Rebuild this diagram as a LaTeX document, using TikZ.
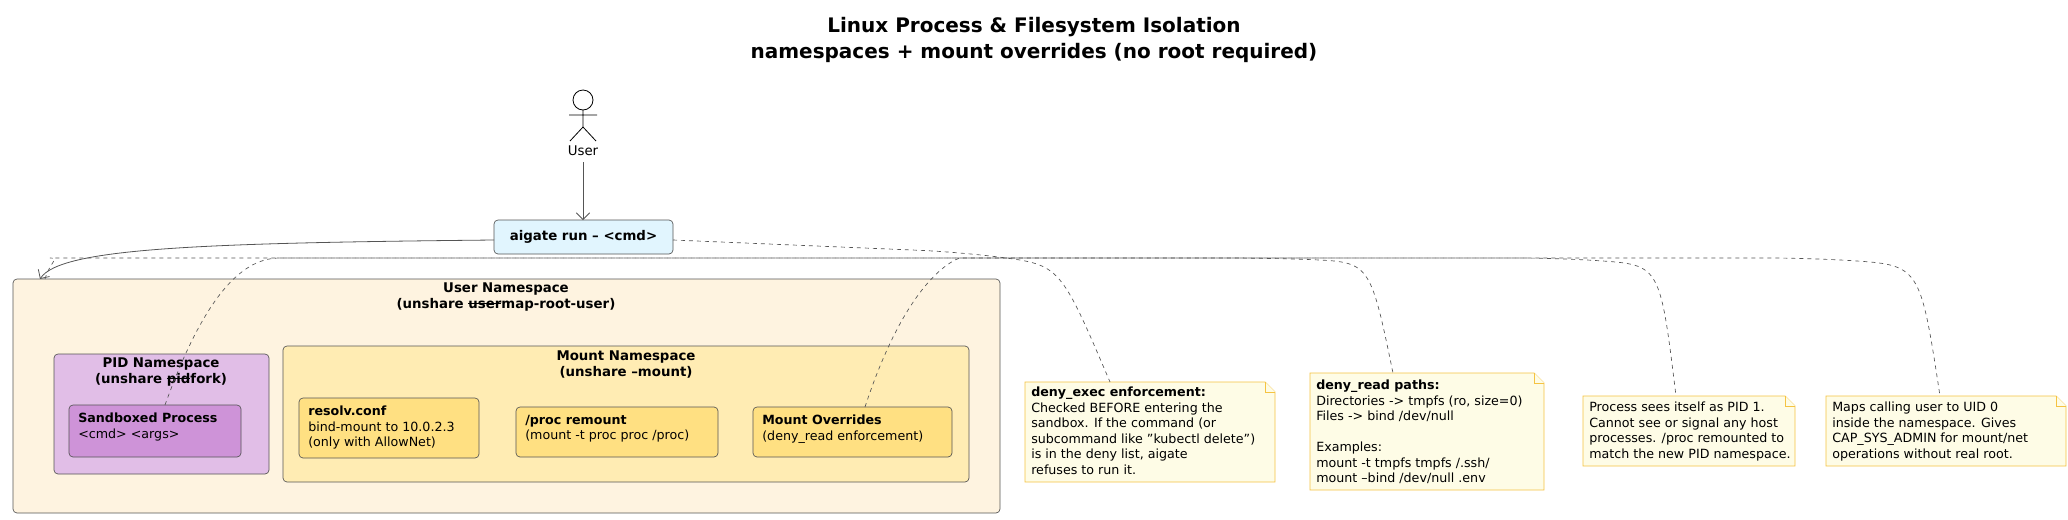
\documentclass[tikz,border=0pt]{standalone}
\usepackage{fontspec}
\setmainfont{DejaVu Sans}
\usetikzlibrary{arrows.meta}
\newcommand\mystrk[1]{\setbox0\hbox{#1}\rlap{\rule[0.6ex]{\wd0}{0.6pt}}\box0}
\definecolor{ubg}{HTML}{FEF3E0}
\definecolor{pidbg}{HTML}{E1BEE7}
\definecolor{procbg}{HTML}{CE93D8}
\definecolor{mntbg}{HTML}{FFECB3}
\definecolor{itembg}{HTML}{FFE082}
\definecolor{cmdbg}{HTML}{E1F5FE}
\definecolor{notebg}{HTML}{FEFCE6}
\definecolor{noteln}{HTML}{F5C342}
\definecolor{ln}{HTML}{555555}
\begin{document}
\begin{tikzpicture}[x=0.75pt,y=-0.75pt,
  box/.style={draw=ln,rounded corners=3pt,line width=0.5pt},
  lbl/.style={align=center,font=\bfseries\fontsize{10}{12}\selectfont},
  txt/.style={align=left,anchor=north west,inner sep=0pt,font=\fontsize{9.5}{11.6}\selectfont},
  note/.style={draw=noteln,fill=notebg,line width=0.6pt},
  dconn/.style={draw=ln,dashed,line width=0.5pt,rounded corners=30pt},
  arr/.style={draw=ln,line width=0.6pt,-{Straight Barb[length=5pt]}}]
\useasboundingbox (0,0) rectangle (2068,519);
\node[font=\bfseries\fontsize{15}{19}\selectfont,align=center] (title) at (1034,40) {Linux Process \& Filesystem Isolation\\namespaces + mount overrides (no root required)};
% actor
\draw[line width=0.6pt] (583,100) circle (10);
\draw[line width=0.6pt] (583,110) -- (583,127) (569,115) -- (597,115) (583,127) -- (570,141) (583,127) -- (596,141);
\node[font=\fontsize{10}{12}\selectfont] (user) at (583,151) {User};
\coordinate (uarr) at (583,162);
% aigate
\draw[box,fill=cmdbg] (494,220) rectangle (673,254);
\node[lbl] (aigate) at (583.5,237) {aigate run -- <cmd>};
\coordinate (agtop) at (583,220);
\draw[arr] (uarr) -- (agtop);
% user ns
\draw[box,fill=ubg] (13,279) rectangle (1000,513);
\node[lbl] (uns) at (506,297) {User Namespace\\(unshare \mystrk{user} map-root-user)};
\coordinate (agleft) at (494,240);
\coordinate (unstop) at (40,279);
\draw[arr] (agleft) .. controls (200,243) and (60,248) .. (unstop);
% pid ns
\draw[box,fill=pidbg] (54,354) rectangle (269,474);
\node[lbl] (pidns) at (161,372) {PID Namespace\\(unshare \mystrk{pid} fork)};
\draw[box,fill=procbg] (69,405) rectangle (241,457);
\node[txt] (proc) at (78,413) {\textbf{Sandboxed Process}\\<cmd> <args>};
% mount ns
\draw[box,fill=mntbg] (283,346) rectangle (969,482);
\node[lbl] (mns) at (626,365) {Mount Namespace\\(unshare --mount)};
\draw[box,fill=itembg] (299,398) rectangle (479,458);
\node[txt] (resolv) at (308,406) {\textbf{resolv.conf}\\bind-mount to 10.0.2.3\\(only with AllowNet)};
\draw[box,fill=itembg] (516,407) rectangle (718,457);
\node[txt] (procm) at (525,415) {\textbf{/proc remount}\\(mount -t proc proc /proc)};
\draw[box,fill=itembg] (753,407) rectangle (952,457);
\node[txt] (movr) at (762,415) {\textbf{Mount Overrides}\\(deny\_read enforcement)};
% notes
\newcommand\mknote[5]{%
  \draw[note] (#2,#3) -- (#4-10,#3) -- (#4,#3+10) -- (#4,#5) -- (#2,#5) -- cycle;
  \draw[note] (#4-10,#3) -- (#4-10,#3+10) -- (#4,#3+10);
  \coordinate (#1) at ({(#2+#4)/2},#3);}
\mknote{n1}{1025}{382}{1275}{482}
\node[txt] (t1) at (1031,387) {\textbf{deny\_exec enforcement:}\\Checked BEFORE entering the\\sandbox. If the command (or\\subcommand like "kubectl delete")\\is in the deny list, aigate\\refuses to run it.};
\mknote{n2}{1310}{373}{1544}{490}
\node[txt] (t2) at (1316,380) {\textbf{deny\_read paths:}\\Directories -> tmpfs (ro, size=0)\\Files -> bind /dev/null\\[11.6pt]Examples:\\mount -t tmpfs tmpfs /.ssh/\\mount --bind /dev/null .env};
\mknote{n3}{1583}{396}{1795}{466}
\node[txt] (t3) at (1589,402) {Process sees itself as PID 1.\\Cannot see or signal any host\\processes. /proc remounted to\\match the new PID namespace.};
\mknote{n4}{1826}{396}{2066}{466}
\node[txt] (t4) at (1832,402) {Maps calling user to UID 0\\inside the namespace. Gives\\CAP\_SYS\_ADMIN for mount/net\\operations without real root.};
% dashed connectors
\coordinate (agright) at (673,240);
\coordinate (procT) at (165,405);
\coordinate (movT) at (865,407);
\coordinate (unsT) at (45,279);
\draw[dconn] (agright) -- (960,252) .. controls (1060,265) .. (1110,382);
\draw[dconn] (movT) .. controls (910,270) and (960,258) .. (1000,258) -- (1270,258) .. controls (1370,262) .. (1393,373);
\draw[dconn] (procT) .. controls (210,280) and (250,258) .. (320,258) -- (1560,258) .. controls (1660,265) .. (1676,396);
\draw[dconn] (unsT) .. controls (50,262) and (60,258) .. (90,258) -- (1810,258) .. controls (1920,265) .. (1940,396);
\end{tikzpicture}
\end{document}
